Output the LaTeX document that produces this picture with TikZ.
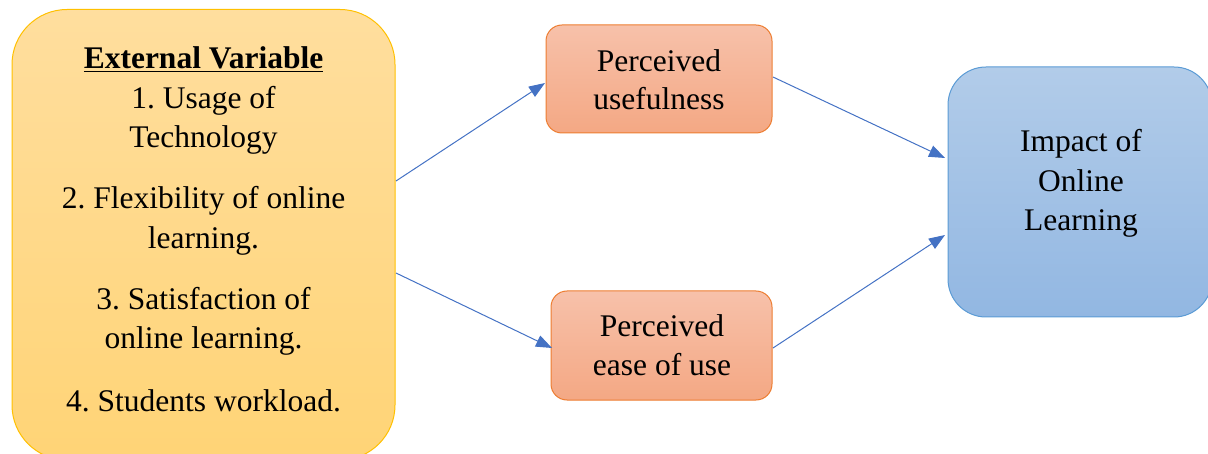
\documentclass[tikz,border=0pt]{standalone}
\usepackage{fontspec}
\setmainfont{Liberation Serif}[Ligatures=TeX]
\frenchspacing
\usetikzlibrary{arrows.meta}
\definecolor{extTop}{RGB}{255,222,158}
\definecolor{extBot}{RGB}{255,212,118}
\definecolor{extLine}{RGB}{255,192,0}
\definecolor{perTop}{RGB}{247,193,170}
\definecolor{perBot}{RGB}{244,168,132}
\definecolor{perLine}{RGB}{237,125,49}
\definecolor{impTop}{RGB}{178,204,233}
\definecolor{impBot}{RGB}{146,183,226}
\definecolor{impLine}{RGB}{91,155,213}
\definecolor{arr}{RGB}{68,114,196}
\tikzset{
  txt/.style={font=\fontsize{31.5}{39}\selectfont, text=black, inner sep=0pt, anchor=base},
  conn/.style={draw=arr, line width=1pt, -{Triangle[length=16pt,width=12pt]}}
}
\begin{document}
\begin{tikzpicture}[x=1pt,y=-1pt]
\useasboundingbox (0,0) rectangle (1208,454);
\clip (0,0) rectangle (1208,454);
% External variable box
\path[draw=extLine, line width=1pt, rounded corners=55pt, top color=extTop, bottom color=extBot]
  (12,9.5) rectangle (395,460);
\node[txt, font=\fontsize{31.5}{39}\selectfont\bfseries] (ext) at (203.5,69) {\underline{External Variable}};
\node[txt] (e1a) at (203.5,109) {1. Usage of};
\node[txt] (e1b) at (203.5,148) {Technology};
\node[txt] (e2a) at (203.5,209) {2. Flexibility of online};
\node[txt] (e2b) at (203.5,249) {learning.};
\node[txt] (e3a) at (203.5,310) {3. Satisfaction of};
\node[txt] (e3b) at (203.5,349) {online learning.};
\node[txt] (e4) at (203.5,411) {4. Students workload.};
\coordinate (s1) at (396,181);
\coordinate (s2) at (396,273);
% Perceived usefulness
\path[draw=perLine, line width=1pt, rounded corners=16pt, top color=perTop, bottom color=perBot]
  (546,25) rectangle (772,133);
\node[txt] (pu1) at (659,72) {Perceived};
\node[txt] (pu2) at (659,110) {usefulness};
% Perceived ease of use
\path[draw=perLine, line width=1pt, rounded corners=16pt, top color=perTop, bottom color=perBot]
  (551,291) rectangle (772,400);
\node[txt] (pe1) at (662,337) {Perceived};
\node[txt] (pe2) at (662,376) {ease of use};
% Impact
\path[draw=impLine, line width=1pt, rounded corners=38pt, top color=impTop, bottom color=impBot]
  (948,67) rectangle (1212,317);
\node[txt] (imp1) at (1081,152) {Impact of};
\node[txt] (imp2) at (1081,192) {Online};
\node[txt] (imp3) at (1081,231) {Learning};
\coordinate (puin) at (545,83);
\coordinate (pein) at (552,348);
\coordinate (puout) at (773,77);
\coordinate (peout) at (773,348);
\coordinate (impin1) at (945,158);
\coordinate (impin2) at (945,235);
\draw[conn] (s1) -- (puin);
\draw[conn] (s2) -- (pein);
\draw[conn] (puout) -- (impin1);
\draw[conn] (peout) -- (impin2);
\end{tikzpicture}
\end{document}
